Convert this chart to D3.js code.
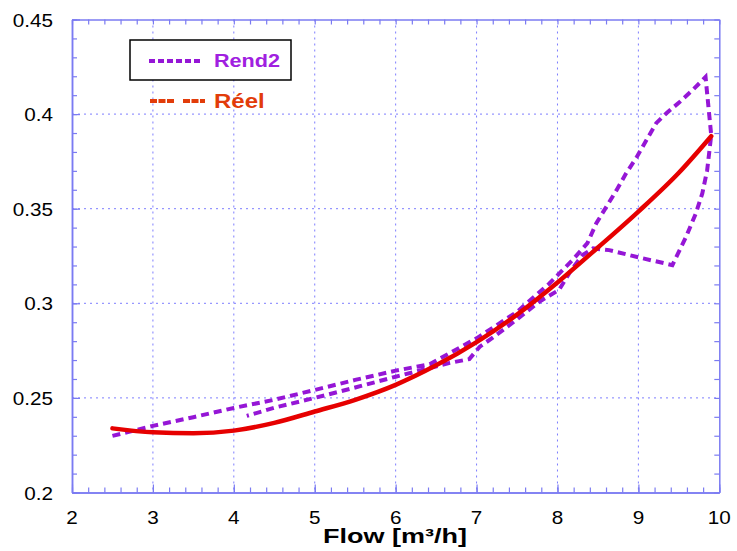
<!DOCTYPE html>
<html>
<head>
<meta charset="utf-8">
<script src="https://cdn.jsdelivr.net/npm/d3@7"></script>
<style>
  body { margin: 0; background: #fff; }
  svg { display: block; font-family: "Liberation Sans", Arial, sans-serif; }
</style>
</head>
<body>
<svg id="chart" width="737" height="551"></svg>
<script>
// ----- DATA -----
var xTicks = [2, 3, 4, 5, 6, 7, 8, 9, 10];
var yTicks = [0.2, 0.25, 0.3, 0.35, 0.4, 0.45];
var yTickLabels = ["0.2", "0.25", "0.3", "0.35", "0.4", "0.45"];

// measured ("Réel") curve
var reelFlow = [2.5, 3.0, 3.5, 4.0, 4.5, 5.0, 5.5, 6.0, 6.5, 7.0, 7.5, 8.0, 8.5, 9.0, 9.5, 9.9];
var reelVal  = [0.2339, 0.2318, 0.2313, 0.2327, 0.2368, 0.2428, 0.2490, 0.2569, 0.2672, 0.2795, 0.2940, 0.3110, 0.3295, 0.3485, 0.3690, 0.3883];

// Rend2 path (goes up along the upper branch, loops at the top right, comes back along the lower one)
var rendFlow = [2.5, 3.0, 3.5, 4.0, 4.5, 5.0, 5.5, 6.0, 6.42, 7.0, 7.5, 7.9, 8.2, 8.37, 8.48, 8.60, 8.73, 8.85, 8.98, 9.10, 9.22, 9.35, 9.51, 9.67, 9.83,
                9.90, 9.85, 9.79, 9.71, 9.59, 9.42, 9.05, 8.64, 8.44, 8.31, 8.17, 8.02, 7.78, 7.5, 7.2, 7.04, 6.91, 6.67, 6.0, 5.5, 5.0, 4.5, 4.16];
var rendVal  = [0.2299, 0.2352, 0.2398, 0.2447, 0.2490, 0.2542, 0.2595, 0.2644, 0.2678, 0.2815, 0.2955, 0.3105, 0.3235, 0.3318, 0.3423, 0.3507, 0.3598, 0.3688, 0.3773, 0.3863, 0.3952, 0.4006, 0.4064, 0.4127, 0.4196,
                0.3889, 0.3703, 0.3581, 0.3475, 0.3352, 0.3202, 0.3238, 0.3281, 0.3290, 0.3255, 0.3176, 0.3071, 0.3010, 0.2915, 0.2818, 0.2771, 0.2705, 0.2685, 0.2612, 0.2555, 0.2500, 0.2448, 0.2405];

var seriesNames = ["Rend2", "Réel"];

// ----- SETUP -----
var svg = d3.select("#chart");
var plotLeft = 72, plotRight = 719.3, plotTop = 19.5, plotBottom = 492.5;

var x = d3.scaleLinear().domain([2, 10]).range([plotLeft, plotRight]);
var y = d3.scaleLinear().domain([0.2, 0.45]).range([plotBottom, plotTop]);

var axisColor = "#7b7bf2";
var gridColor = "#7d7dff";

// text in the original is drawn a bit wider than the font, so stretch it
function stretched(sel, px, py, sx) {
    return sel.attr("transform", "translate(" + px + "," + py + ") scale(" + sx + ",1)");
}

// ----- GRID -----
var grid = svg.append("g");
grid.selectAll(".vgrid")
    .data(xTicks.slice(1, -1))
    .enter().append("line")
    .attr("x1", function(d) { return x(d); })
    .attr("x2", function(d) { return x(d); })
    .attr("y1", plotTop).attr("y2", plotBottom)
    .attr("stroke", gridColor).attr("stroke-width", 1)
    .attr("stroke-dasharray", "2,4");
grid.selectAll(".hgrid")
    .data(yTicks.slice(1, -1))
    .enter().append("line")
    .attr("x1", plotLeft).attr("x2", plotRight)
    .attr("y1", function(d) { return y(d); })
    .attr("y2", function(d) { return y(d); })
    .attr("stroke", gridColor).attr("stroke-width", 1)
    .attr("stroke-dasharray", "2,4");

// ----- AXES (ticks inward on all four sides) -----
var xMinor = d3.range(20, 101, 2).map(function(d) { return d / 10; });
var yMinor = d3.range(20, 46, 1).map(function(d) { return d / 100; });

function inward(axis, len) {
    return axis.tickSizeInner(-len).tickSizeOuter(0).tickFormat("");
}

var bottomMinor = svg.append("g").attr("transform", "translate(0," + plotBottom + ")")
    .call(inward(d3.axisBottom(x).tickValues(xMinor), 5));
var topMinor = svg.append("g").attr("transform", "translate(0," + plotTop + ")")
    .call(inward(d3.axisTop(x).tickValues(xMinor), 5));
var leftMinor = svg.append("g").attr("transform", "translate(" + plotLeft + ",0)")
    .call(inward(d3.axisLeft(y).tickValues(yMinor), 5));
var rightMinor = svg.append("g").attr("transform", "translate(" + plotRight + ",0)")
    .call(inward(d3.axisRight(y).tickValues(yMinor), 5));
var bottomMajor = svg.append("g").attr("transform", "translate(0," + plotBottom + ")")
    .call(inward(d3.axisBottom(x).tickValues(xTicks), 8));
var leftMajor = svg.append("g").attr("transform", "translate(" + plotLeft + ",0)")
    .call(inward(d3.axisLeft(y).tickValues(yTicks), 8));

[bottomMinor, topMinor, leftMinor, rightMinor, bottomMajor, leftMajor].forEach(function(g) {
    g.selectAll("line").attr("stroke", axisColor).attr("stroke-width", 1.2);
    g.select(".domain").attr("stroke", axisColor).attr("stroke-width", 1.5);
});

// tick labels
svg.append("g").selectAll("text")
    .data(xTicks)
    .enter().append("text")
    .each(function(d) { stretched(d3.select(this), x(d), 524, 1.15); })
    .attr("text-anchor", "middle")
    .attr("font-size", 18)
    .attr("fill", "#000")
    .text(function(d) { return d; });

svg.append("g").selectAll("text")
    .data(yTicks)
    .enter().append("text")
    .each(function(d) { stretched(d3.select(this), 53, y(d) + 7, 1.15); })
    .attr("text-anchor", "end")
    .attr("font-size", 18)
    .attr("fill", "#000")
    .text(function(d, i) { return yTickLabels[i]; });

stretched(svg.append("text"), 395, 543, 1.35)
    .attr("text-anchor", "middle")
    .attr("font-size", 20)
    .attr("font-weight", "bold")
    .attr("fill", "#000")
    .text("Flow [m³/h]");

// ----- LINES -----
var reelPts = reelFlow.map(function(d, i) { return [d, reelVal[i]]; });
var rendPts = rendFlow.map(function(d, i) { return [d, rendVal[i]]; });

var purple = "#9516d6";
var red = "#e60000";

svg.append("path")
    .datum(rendPts)
    .attr("fill", "none")
    .attr("stroke", purple)
    .attr("stroke-width", 4)
    .attr("stroke-dasharray", "8,5")
    .attr("d", d3.line()
        .x(function(d) { return x(d[0]); })
        .y(function(d) { return y(d[1]); }));

svg.append("path")
    .datum(reelPts)
    .attr("fill", "none")
    .attr("stroke", red)
    .attr("stroke-width", 4.5)
    .attr("stroke-linecap", "round")
    .attr("d", d3.line()
        .curve(d3.curveMonotoneX)
        .x(function(d) { return x(d[0]); })
        .y(function(d) { return y(d[1]); }));

// ----- LEGEND -----
var legend = svg.append("g");
legend.append("rect")
    .attr("x", 130).attr("y", 40)
    .attr("width", 161).attr("height", 40)
    .attr("fill", "#fff")
    .attr("stroke", "#000").attr("stroke-width", 1.5);
legend.append("line")
    .attr("x1", 149).attr("x2", 203)
    .attr("y1", 61).attr("y2", 61)
    .attr("stroke", purple).attr("stroke-width", 4)
    .attr("stroke-dasharray", "6,3");
stretched(legend.append("text"), 214, 67, 1.2)
    .attr("font-size", 18).attr("font-weight", "bold")
    .attr("fill", "#a020e0")
    .text(seriesNames[0]);
legend.append("line")
    .attr("x1", 150).attr("x2", 205)
    .attr("y1", 101).attr("y2", 101)
    .attr("stroke", "#e23c0a").attr("stroke-width", 4)
    .attr("stroke-dasharray", "7,1.5,7,1.5,7,9");
stretched(legend.append("text"), 214, 108, 1.2)
    .attr("font-size", 20).attr("font-weight", "bold")
    .attr("fill", "#e23c0a")
    .text(seriesNames[1]);
</script>
</body>
</html>
